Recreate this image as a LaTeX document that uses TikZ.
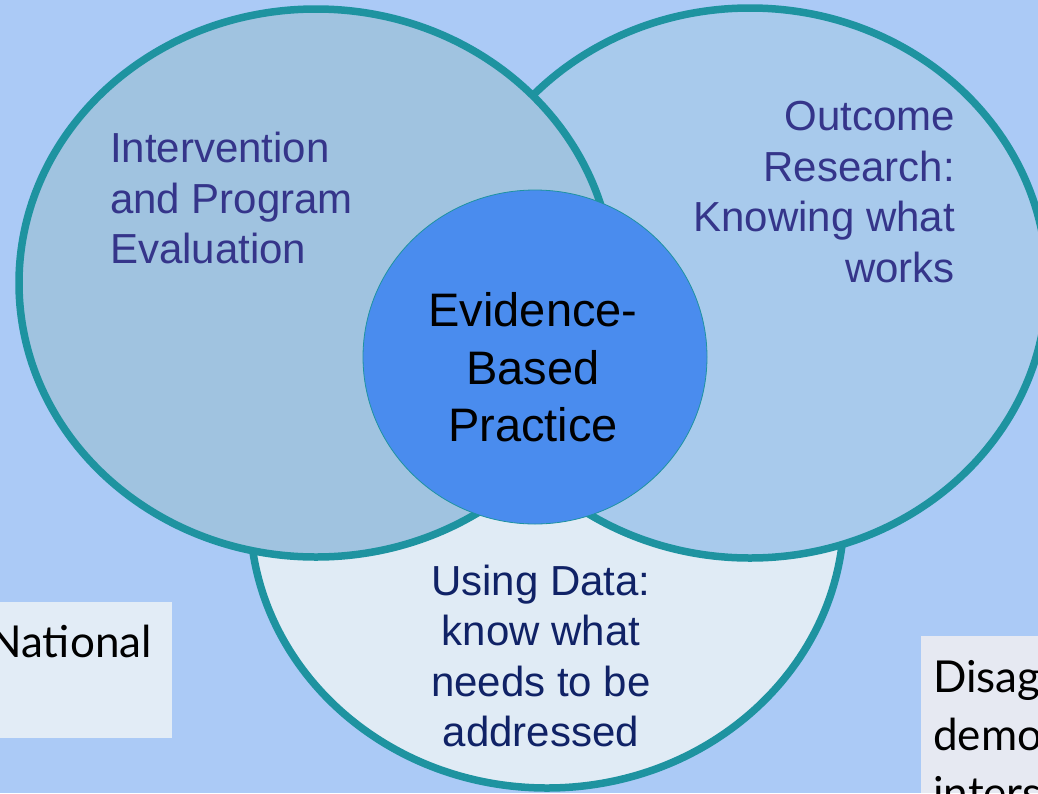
\documentclass[tikz,border=0pt]{standalone}
\usepackage{fontspec}
\setmainfont{Liberation Sans}
\newfontfamily\boxfont{Lato}
\usepackage{tikz}
\usetikzlibrary{shapes.geometric}

\definecolor{slidebg}{HTML}{ABCAF6}
\definecolor{ringline}{HTML}{1E93A0}
\definecolor{leftfill}{HTML}{A0C3E0}
\definecolor{rightfill}{HTML}{A8CAEC}
\definecolor{lowfill}{HTML}{E0EBF5}
\definecolor{corefill}{HTML}{4A8CEE}
\definecolor{navtext}{HTML}{35358A}
\definecolor{datanavy}{HTML}{102266}
\definecolor{natfill}{HTML}{E2ECF6}
\definecolor{disfill}{HTML}{E6E9F2}

\begin{document}
\begin{tikzpicture}[x=1pt, y=-1pt,
    ring/.style={draw=ringline, line width=7.5pt},
    venntext/.style={inner sep=0pt, text=navtext, font=\fontsize{42}{50.5}\selectfont},
    coretext/.style={inner sep=0pt, align=center, font=\fontsize{47}{57.5}\selectfont},
    boxtext/.style={inner sep=0pt, align=left, font=\boxfont\fontsize{44}{58}\selectfont}
]
\useasboundingbox (0,0) rectangle (1038,793);
\clip (0,0) rectangle (1038,793);
\fill[slidebg] (0,0) rectangle (1038,793);

% --- Side boxes ---
\fill[natfill] (0,602) rectangle (172,738);
\node[boxtext, anchor=base east] (nattext) at (152,657) {National};
\fill[disfill] (921,636) rectangle (1038,793);
\node[boxtext, anchor=north west] (distext) at (933,660) {Disag\\demo\\inters};

% --- Circles (bottom, right, left) ---
\draw[ring, fill=lowfill] (547,513) ellipse [x radius=297, y radius=275];
\draw[ring, fill=rightfill] (750,283) ellipse [x radius=297, y radius=275];
\draw[ring, fill=leftfill] (316,283) ellipse [x radius=297, y radius=274];

% --- Circle texts ---
\node[venntext, align=left, anchor=north west] (evaltext) at (110,132) {Intervention\\and Program\\Evaluation};
\node[venntext, align=right, anchor=north east] (outtext) at (955,101) {Outcome\\Research:\\Knowing what\\works};
\node[venntext, text=datanavy, align=center] (datatext) at (541,656) {Using Data:\\know what\\needs to be\\addressed};

% --- Centre ---
\node[ellipse, fill=corefill, draw=ringline, line width=0.8pt, minimum width=344pt, minimum height=334pt, inner sep=0pt] (core) at (535,357) {};
\node[coretext] (coretxt) at (533,367.5) {Evidence-\\Based\\Practice};

\end{tikzpicture}
\end{document}
